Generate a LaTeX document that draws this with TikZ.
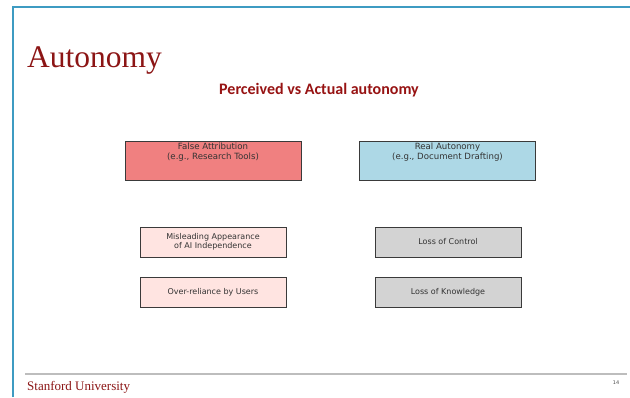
\documentclass[tikz,border=0pt]{standalone}
\usepackage{fontspec}
\setmainfont{Liberation Serif}
\newfontfamily\boxfont{DejaVu Sans}
\newfontfamily\subfont{Carlito}
\definecolor{cardinal}{HTML}{8C1515}
\definecolor{frameblue}{HTML}{3E9BC2}
\definecolor{coralfill}{HTML}{F08080}
\definecolor{bluefill}{HTML}{ADD8E6}
\definecolor{rosefill}{HTML}{FFE4E1}
\definecolor{grayfill}{HTML}{D3D3D3}
\definecolor{boxline}{HTML}{3A3A3A}
\definecolor{footline}{HTML}{BDBDBD}
\tikzset{
  bigbox/.style={draw=boxline, line width=0.9pt, minimum width=176pt, minimum height=39pt, inner sep=0pt},
  smallbox/.style={draw=boxline, line width=0.9pt, minimum width=146pt, minimum height=30pt, inner sep=0pt, align=center, font=\boxfont\fontsize{8}{9}\selectfont, text=black!80},
  boxlabel/.style={align=center, inner sep=0pt, font=\boxfont\fontsize{8.6}{10}\selectfont, text=black!80}
}
\begin{document}
\begin{tikzpicture}[x=1pt,y=-1pt]
\useasboundingbox (0,0) rectangle (630,397);
\fill[white] (0,0) rectangle (630,397);
% frame
\draw[frameblue, line width=2pt] (12.5,397) -- (12.5,6.5) -- (630,6.5);
% title
\node[anchor=base west, inner sep=0pt, text=cardinal, font=\fontsize{31.5}{35}\selectfont] (title) at (27,67) {Autonomy};
\node[anchor=base, inner sep=0pt, text=cardinal!90!red, font=\subfont\bfseries\fontsize{16}{18}\selectfont] (sub) at (319,94) {Perceived vs Actual autonomy};
% big boxes
\node[bigbox, fill=coralfill] (fa) at (213,160.5) {};
\node[boxlabel, anchor=north] (fat) at ([yshift=-2pt]fa.north) {False Attribution\\(e.g., Research Tools)};
\node[bigbox, fill=bluefill] (ra) at (447.5,160.5) {};
\node[boxlabel, anchor=north] (rat) at ([yshift=-2pt]ra.north) {Real Autonomy\\(e.g., Document Drafting)};
% small boxes
\node[smallbox, fill=rosefill] (mis) at (213,242) {Misleading Appearance\\of AI Independence};
\node[smallbox, fill=rosefill] (over) at (213,292) {Over-reliance by Users};
\node[smallbox, fill=grayfill] (loc) at (448,242) {Loss of Control};
\node[smallbox, fill=grayfill] (lok) at (448,292) {Loss of Knowledge};
% footer
\draw[footline, line width=1.3pt] (25,374) -- (627,374);
\node[anchor=base west, inner sep=0pt, text=cardinal, font=\fontsize{13}{15}\selectfont] (stan) at (27,390) {Stanford University};
\node[anchor=base, inner sep=0pt, text=black!70, font=\boxfont\fontsize{5}{6}\selectfont] (pg) at (616,384) {14};
\end{tikzpicture}
\end{document}
